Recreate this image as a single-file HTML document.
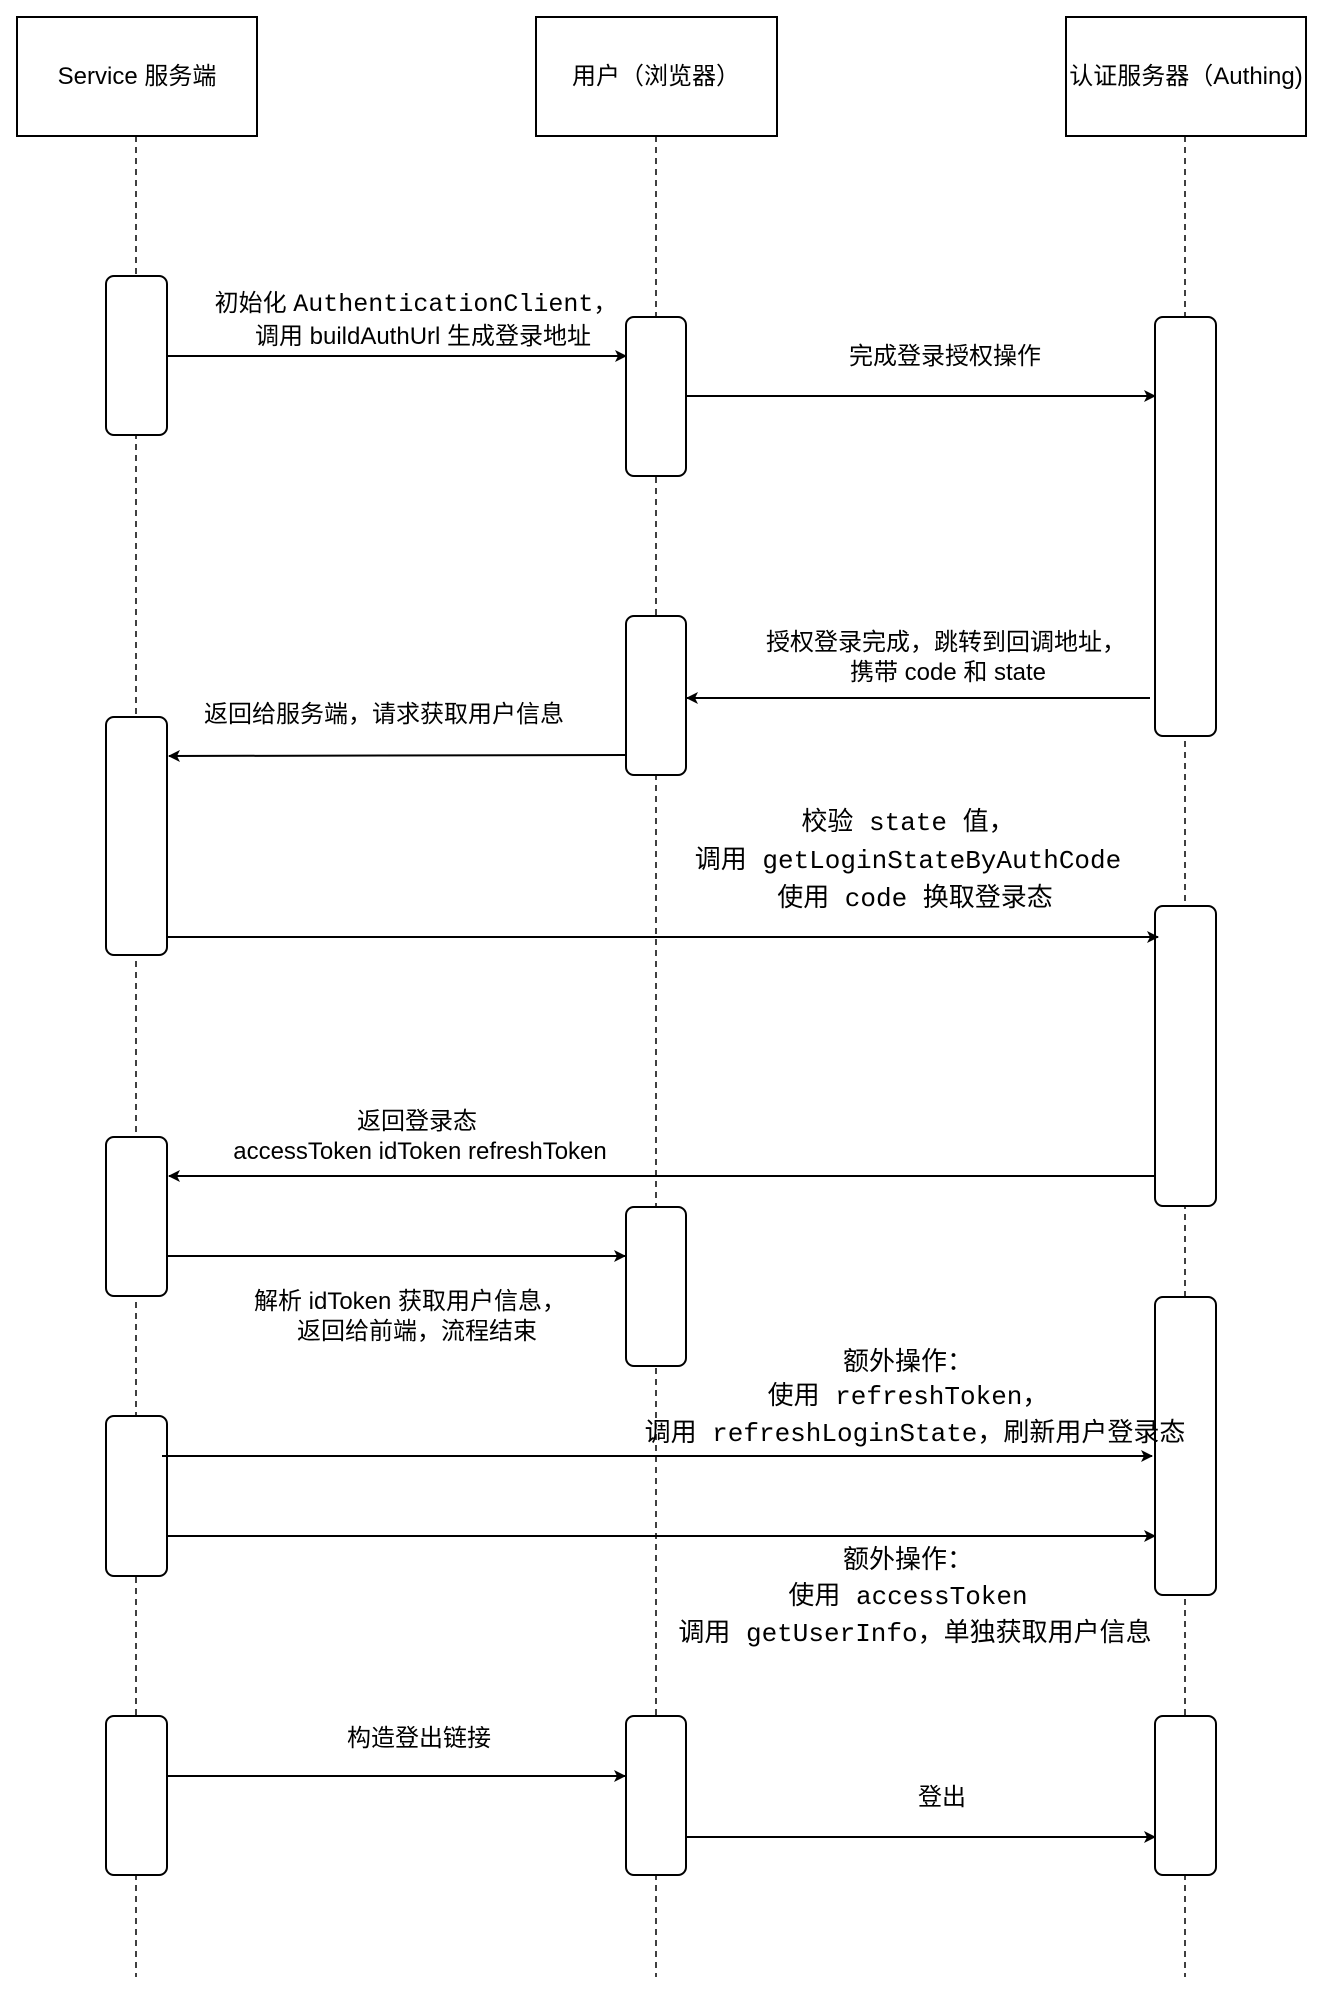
<!DOCTYPE html>
<html><head><meta charset="utf-8"><style>
html,body{margin:0;padding:0;background:#fff;}
svg{display:block;}
.s{font-family:"Liberation Sans","Noto Sans CJK SC",sans-serif;font-size:24px;fill:#000;}
.m{font-family:"Liberation Mono","Noto Sans CJK SC",monospace;font-size:26px;fill:#000;}
.mi{font-family:"Liberation Mono",monospace;font-size:25px;}
</style></head><body>
<svg width="1324" height="1996" viewBox="0 0 1324 1996" xmlns="http://www.w3.org/2000/svg">
<defs><marker id="a" markerWidth="12" markerHeight="12" refX="11" refY="6" orient="auto" markerUnits="userSpaceOnUse"><path d="M0,0 L12,6 L0,12 L3,6 Z" fill="#000"/></marker></defs>
<g stroke="#000" stroke-width="2" fill="#fff">
<rect x="17" y="17" width="240" height="119"/>
<rect x="536" y="17" width="241" height="119"/>
<rect x="1066" y="17" width="240" height="119"/>
</g>
<g stroke="#000" stroke-width="1.5" stroke-dasharray="6,5">
<line x1="136" y1="136" x2="136" y2="1977"/>
<line x1="656" y1="136" x2="656" y2="1977"/>
<line x1="1185" y1="136" x2="1185" y2="1977"/>
</g>
<text class="s" x="137" y="84" text-anchor="middle">Service 服务端</text>
<text class="s" x="656" y="84" text-anchor="middle">用户（浏览器）</text>
<text class="s" x="1186" y="84" text-anchor="middle">认证服务器（Authing)</text>
<g stroke="#000" stroke-width="2" fill="#fff">
<rect x="106" y="276" width="61" height="159" rx="8"/>
<rect x="106" y="717" width="61" height="238" rx="8"/>
<rect x="106" y="1137" width="61" height="159" rx="8"/>
<rect x="106" y="1416" width="61" height="160" rx="8"/>
<rect x="106" y="1716" width="61" height="159" rx="8"/>
<rect x="626" y="317" width="60" height="159" rx="8"/>
<rect x="626" y="616" width="60" height="159" rx="8"/>
<rect x="626" y="1207" width="60" height="159" rx="8"/>
<rect x="626" y="1716" width="60" height="159" rx="8"/>
<rect x="1155" y="317" width="61" height="419" rx="8"/>
<rect x="1155" y="906" width="61" height="300" rx="8"/>
<rect x="1155" y="1297" width="61" height="298" rx="8"/>
<rect x="1155" y="1716" width="61" height="159" rx="8"/>
</g>
<g stroke="#000" stroke-width="2" marker-end="url(#a)">
<line x1="167" y1="356" x2="626" y2="356"/>
<line x1="686" y1="396" x2="1155" y2="396"/>
<line x1="1150" y1="698" x2="687" y2="698"/>
<line x1="625" y1="755" x2="169" y2="756"/>
<line x1="167" y1="937" x2="1158" y2="937"/>
<line x1="1155" y1="1176" x2="169" y2="1176"/>
<line x1="167" y1="1256" x2="625" y2="1256"/>
<line x1="162" y1="1456" x2="1152" y2="1456"/>
<line x1="167" y1="1536" x2="1155" y2="1536"/>
<line x1="167" y1="1776" x2="625" y2="1776"/>
<line x1="686" y1="1837" x2="1155" y2="1837"/>
</g>
<g class="s" text-anchor="middle">
<text x="416" y="311">初始化 <tspan class="mi">AuthenticationClient</tspan>，</text>
<text x="423" y="344">调用  buildAuthUrl 生成登录地址</text>
<text x="945" y="364">完成登录授权操作</text>
<text x="946" y="650">授权登录完成，跳转到回调地址，</text>
<text x="948" y="680">携带 code 和 state</text>
<text x="384" y="722">返回给服务端，请求获取用户信息</text>
<text x="417" y="1129">返回登录态</text>
<text x="420" y="1159">accessToken idToken refreshToken</text>
<text x="410" y="1309">解析 idToken 获取用户信息，</text>
<text x="417" y="1339">返回给前端，流程结束</text>
<text x="419" y="1746">构造登出链接</text>
<text x="942" y="1805">登出</text>
</g>
<g class="m" text-anchor="middle">
<text x="908" y="830">校验 state 值，</text>
<text x="908" y="868">调用 getLoginStateByAuthCode</text>
<text x="915" y="906">使用 code 换取登录态</text>
<text x="908" y="1370">额外操作：</text>
<text x="908" y="1404">使用 refreshToken，</text>
<text x="915" y="1441">调用 refreshLoginState，刷新用户登录态</text>
<text x="908" y="1568">额外操作：</text>
<text x="908" y="1604">使用 accessToken</text>
<text x="915" y="1641">调用 getUserInfo，单独获取用户信息</text>
</g>
</svg>
</body></html>
